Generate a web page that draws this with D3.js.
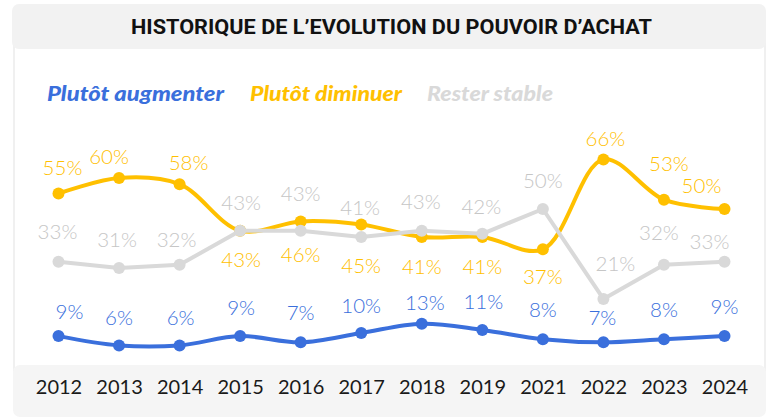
<!DOCTYPE html>
<html><head><meta charset="utf-8">
<script src="https://cdn.jsdelivr.net/npm/d3@7"></script>
<style>
html,body{margin:0;padding:0;background:#fff;}
svg{display:block;}
</style></head>
<body>
<svg id="chart" width="768" height="418"></svg>
<script>
// ---- data ----
const years = ["2012","2013","2014","2015","2016","2017","2018","2019","2021","2022","2023","2024"];
const augmenter = [9, 6, 6, 9, 7, 10, 13, 11, 8, 7, 8, 9];
const diminuer  = [55, 60, 58, 43, 46, 45, 41, 41, 37, 66, 53, 50];
const stable    = [33, 31, 32, 43, 43, 41, 43, 42, 50, 21, 32, 33];
const seriesNames = ["Plutôt augmenter", "Plutôt diminuer", "Rester stable"];
const title = "HISTORIQUE DE L\u2019EVOLUTION DU POUVOIR D\u2019ACHAT";

// label placement tweaks (pixels) per series: [dx, dy]
const offAug = [[11,-17],[0,-20],[1,-20],[1,-21],[0,-22],[0,-20],[3,-14],[1,-21],[0,-22],[-1,-17],[0,-22],[0,-22]];
const offDim = [[4,-19],[-10,-14],[9,-14],[1,36],[0,41],[0,48],[0,37],[0,37],[0,35],[2,-13],[5,-29],[-23,-16]];
const offSta = [[-1,-23],[-2,-21],[-3,-18],[1,-21],[0,-30],[-1,-22],[-1,-22],[-1,-20],[0,-21],[12,-28],[-5,-25],[-15,-13]];

const colors = {aug:"#3A6FDC", dim:"#FFC000", sta:"#D9D9D9", staLabel:"#C6C6C6"};

const svg = d3.select("#chart");

// panels
svg.append("rect").attr("x",14).attr("y",38).attr("width",751).attr("height",350)
  .attr("fill","#fff").attr("stroke","#EBEBEB").attr("stroke-width",1.5);
svg.append("rect").attr("x",12).attr("y",4).attr("width",754).attr("height",45).attr("rx",7)
  .attr("fill","#F2F2F2");
svg.append("rect").attr("x",13).attr("y",365).attr("width",753).attr("height",52).attr("rx",7)
  .attr("fill","#F5F5F5");

svg.append("text").attr("x",131).attr("y",34)
  .attr("font-family","Roboto, sans-serif").attr("font-weight",700).attr("font-size",20)
  .attr("textLength",521).attr("lengthAdjust","spacingAndGlyphs")
  .attr("fill","#111").text(title);

// legend
const legendColors = [colors.aug, colors.dim, colors.sta];
const legendX = [47, 250, 427];
const legendW = [177, 152, 126];
seriesNames.forEach((n,i)=>{
  svg.append("text").attr("x",legendX[i]).attr("y",101)
    .attr("font-family","Lato, sans-serif").attr("font-weight",900).attr("font-style","italic")
    .attr("font-size",21).attr("textLength",legendW[i]).attr("lengthAdjust","spacingAndGlyphs")
    .attr("fill",legendColors[i]).text(n);
});

// scales
const x = d3.scalePoint().domain(years).range([58.5, 724.5]);
const y = d3.scaleLinear().domain([0, 100]).range([364, 54]);

// x axis
const xAxis = d3.axisBottom(x).tickSize(0).tickPadding(0);
const gx = svg.append("g").attr("transform","translate(0,380)").call(xAxis);
gx.select(".domain").remove();
gx.selectAll("text").attr("font-family","Lato, sans-serif").attr("font-weight",400).attr("font-size",20)
  .attr("fill","#1a1a1a").attr("dy","0.71em");

function drawSeries(vals, color, labelColor, curve, offs){
  const data = years.map((yr,i)=>({yr, v:vals[i], o:offs[i]}));
  const line = d3.line().x(d=>x(d.yr)).y(d=>y(d.v)).curve(curve);
  const g = svg.append("g");
  g.append("path").attr("d", line(data)).attr("fill","none").attr("stroke",color)
    .attr("stroke-width",4).attr("stroke-linejoin","round").attr("stroke-linecap","round");
  g.selectAll("circle").data(data).join("circle")
    .attr("cx",d=>x(d.yr)).attr("cy",d=>y(d.v)).attr("r",6).attr("fill",color);
  g.selectAll("text").data(data).join("text")
    .attr("x",d=>x(d.yr)+d.o[0]).attr("y",d=>y(d.v)+d.o[1])
    .attr("text-anchor","middle").attr("font-family","Lato, sans-serif").attr("font-weight",300)
    .attr("font-size",20.5).attr("fill",labelColor).text(d=>d.v+"%");
}

drawSeries(augmenter, colors.aug, colors.aug, d3.curveCatmullRom.alpha(0.5), offAug);
drawSeries(diminuer, colors.dim, colors.dim, d3.curveCatmullRom.alpha(0.5), offDim);
drawSeries(stable, colors.sta, colors.staLabel, d3.curveLinear, offSta);
</script>
</body></html>
